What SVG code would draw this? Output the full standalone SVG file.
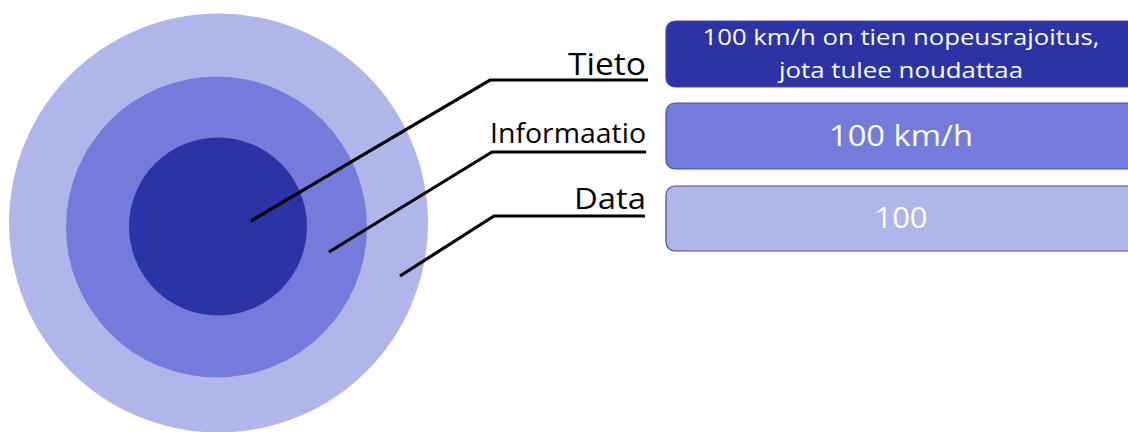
<svg xmlns="http://www.w3.org/2000/svg" width="1128" height="432" viewBox="0 0 1128 432">
  <style>
    .leader { fill: none; stroke: #000; stroke-width: 3.2; stroke-linejoin: miter; }
    .label { font-family: "Open Sans", "Noto Sans", sans-serif; fill: #000; text-anchor: end; }
    .box { stroke: #41519C; stroke-width: 1.2; }
    .boxtext { font-family: "Open Sans", "Noto Sans", sans-serif; fill: #fff; text-anchor: middle; }
    .dark { fill: #2C33A6; }
    .mid { fill: #747BDA; }
    .light { fill: #B0B6EA; }
  </style>

  <!-- concentric rings: data / information / knowledge -->
  <g id="rings">
    <circle class="light" cx="218.5" cy="223" r="209.5"/>
    <circle class="mid" cx="216.5" cy="227" r="150.5"/>
    <circle class="dark" cx="218" cy="226.5" r="89"/>
  </g>

  <!-- leader lines from rings to labels -->
  <g id="connectors">
    <polyline class="leader" points="251,221 490,80 648,80"/>
    <polyline class="leader" points="329,252 492,152 646,152"/>
    <polyline class="leader" points="400,276 494,216 645,216"/>
  </g>

  <g id="tieto">
    <text class="label" x="646" y="75" font-size="31" textLength="78" lengthAdjust="spacingAndGlyphs">Tieto</text>
    <rect class="box dark" x="666" y="21" width="480" height="66" rx="9"/>
    <text class="boxtext" x="901" y="45" font-size="22" textLength="397" lengthAdjust="spacingAndGlyphs">100 km/h on tien nopeusrajoitus,</text>
    <text class="boxtext" x="901" y="78" font-size="22" textLength="244" lengthAdjust="spacingAndGlyphs">jota tulee noudattaa</text>
  </g>

  <g id="informaatio">
    <text class="label" x="646" y="143" font-size="27" textLength="156" lengthAdjust="spacingAndGlyphs">Informaatio</text>
    <rect class="box mid" x="666" y="103" width="480" height="66" rx="9"/>
    <text class="boxtext" x="901" y="146" font-size="29" textLength="144" lengthAdjust="spacingAndGlyphs">100 km/h</text>
  </g>

  <g id="data">
    <text class="label" x="646" y="209" font-size="30" textLength="72" lengthAdjust="spacingAndGlyphs">Data</text>
    <rect class="box light" x="666" y="186" width="480" height="65" rx="9"/>
    <text class="boxtext" x="901" y="228" font-size="29" textLength="53" lengthAdjust="spacingAndGlyphs">100</text>
  </g>
</svg>
